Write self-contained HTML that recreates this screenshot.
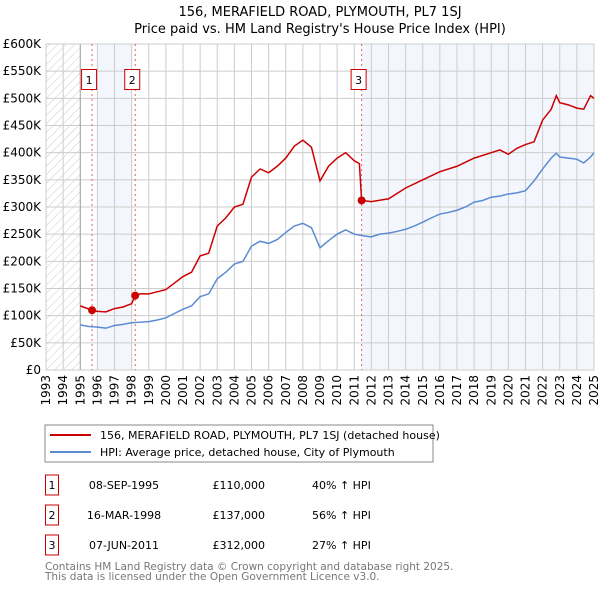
<!DOCTYPE html>
<html><head><meta charset="utf-8"><style>
body{margin:0;background:#fff;width:600px;height:590px;overflow:hidden;font-family:"DejaVu Sans","Liberation Sans",sans-serif}
svg text{font-family:"DejaVu Sans","Liberation Sans",sans-serif}
</style></head><body>
<svg id="c" width="600" height="590">
<defs><pattern id="hatch" width="6" height="6" patternUnits="userSpaceOnUse" patternTransform="rotate(45)"><line x1="0" y1="0" x2="0" y2="6" stroke="#ccc" stroke-width="1"/></pattern></defs>
<text x="320" y="16" text-anchor="middle" font-size="13">156, MERAFIELD ROAD, PLYMOUTH, PL7 1SJ</text>
<text x="320" y="33" text-anchor="middle" font-size="13">Price paid vs. HM Land Registry's House Price Index (HPI)</text>
<g id="plot"></g>
<rect x="45" y="425" width="388" height="37" fill="#fff" stroke="#888"/>
<line x1="50" y1="435" x2="91" y2="435" stroke="#cc0000" stroke-width="2"/>
<text x="100" y="439" font-size="11">156, MERAFIELD ROAD, PLYMOUTH, PL7 1SJ (detached house)</text>
<line x1="50" y1="452" x2="91" y2="452" stroke="#5b8bd0" stroke-width="2"/>
<text x="100" y="456" font-size="11">HPI: Average price, detached house, City of Plymouth</text>
<g id="tbl" font-size="11"></g>
<text x="45" y="570" font-size="10.5" fill="#777">Contains HM Land Registry data © Crown copyright and database right 2025.</text>
<text x="45" y="580" font-size="10.5" fill="#777">This data is licensed under the Open Government Licence v3.0.</text>
</svg>
<script>
const hpiYears=[1995,1995.5,1996,1996.5,1997,1997.5,1998,1998.5,1999,1999.5,2000,2000.5,2001,2001.5,2002,2002.5,2003,2003.5,2004,2004.5,2005,2005.5,2006,2006.5,2007,2007.5,2008,2008.5,2009,2009.5,2010,2010.5,2011,2011.5,2012,2012.5,2013,2013.5,2014,2014.5,2015,2015.5,2016,2016.5,2017,2017.5,2018,2018.5,2019,2019.5,2020,2020.5,2021,2021.5,2022,2022.5,2022.8,2023,2023.5,2024,2024.4,2024.8,2025];
const hpiValues=[83,80,79,77,82,84,87,88,89,92,96,104,112,118,135,140,168,180,195,200,228,237,233,240,253,265,270,262,225,238,250,258,250,247,245,250,252,255,259,265,272,280,287,290,294,300,309,312,318,320,324,326,330,348,370,390,399,392,390,388,381,392,400];
const propYears=[1995,1995.69,1996,1996.5,1997,1997.5,1998,1998.21,1998.5,1999,2000,2000.5,2001,2001.5,2002,2002.5,2003,2003.5,2004,2004.5,2005,2005.5,2006,2006.5,2007,2007.5,2008,2008.5,2009,2009.5,2010,2010.5,2011,2011.3,2011.43,2012,2013,2014,2015,2016,2017,2018,2019,2019.5,2020,2020.5,2021,2021.5,2022,2022.5,2022.8,2023,2023.5,2024,2024.4,2024.8,2025];
const propValues=[118,110,108,107,113,116,122,137,140,140,148,160,172,180,210,215,265,280,300,305,355,370,363,375,390,412,423,410,348,375,390,400,385,380,312,310,315,335,350,365,375,390,400,405,397,408,415,420,460,480,505,492,488,482,480,505,500];
const saleYears=[1995.69,1998.21,2011.43];
const saleValues=[110,137,312];
const saleLabels=["1","2","3"];
const saleDates=["08-SEP-1995","16-MAR-1998","07-JUN-2011"];
const salePrices=["£110,000","£137,000","£312,000"];
const saleHpi=["40% ↑ HPI","56% ↑ HPI","27% ↑ HPI"];
const yTicks=[0,50,100,150,200,250,300,350,400,450,500,550,600];
const yTickLabels=["£0","£50K","£100K","£150K","£200K","£250K","£300K","£350K","£400K","£450K","£500K","£550K","£600K"];
const xYears=[1993,1994,1995,1996,1997,1998,1999,2000,2001,2002,2003,2004,2005,2006,2007,2008,2009,2010,2011,2012,2013,2014,2015,2016,2017,2018,2019,2020,2021,2022,2023,2024,2025];

const X0=46,X1=594,Y0=370,Y1=44;
const xs=y=>X0+(y-1993)*(X1-X0)/32;
const ys=v=>Y0-v*(Y0-Y1)/600;
const NS="http://www.w3.org/2000/svg";
const g=document.getElementById('plot');
function mk(t,a,p){const e=document.createElementNS(NS,t);for(const k in a)e.setAttribute(k,a[k]);(p||g).appendChild(e);return e;}

let e;
e=mk('rect',{x:X0,y:Y1,width:xs(1995)-X0,height:Y0-Y1,fill:'url(#hatch)'});


e=mk('rect',{x:xs(1996),y:Y1,width:xs(1998)-xs(1996),height:Y0-Y1,fill:'#eef3fc',opacity:0.7});


e=mk('rect',{x:xs(saleYears[2]),y:Y1,width:X1-xs(saleYears[2]),height:Y0-Y1,fill:'#eef3fc',opacity:0.7});



yTicks.forEach((v,i)=>{
  e=mk('line',{x1:X0,x2:X1,y1:ys(v),y2:ys(v),stroke:'#ccc'});
  
  
  e=mk('text',{x:X0-5,y:ys(v)+4,'text-anchor':'end','font-size':12});
  e.textContent=yTickLabels[i];
  
  
});
xYears.forEach(y=>{
  e=mk('line',{x1:xs(y),x2:xs(y),y1:Y1,y2:Y0,stroke:y==1995?'#999':'#ccc'});
  
  
  e=mk('text',{x:0,y:0,'text-anchor':'end','font-size':12,transform:`translate(${xs(y)+4},375) rotate(-90)`});
  e.textContent=y;
  
  
});
e=mk('rect',{x:X0,y:Y1,width:X1-X0,height:Y0-Y1,fill:'none',stroke:'#ccc'});



saleYears.forEach((y,i)=>{
  e=mk('line',{x1:xs(y),x2:xs(y),y1:Y1,y2:Y0,stroke:'#e06060','stroke-dasharray':'2,3'});
  
  
});

e=mk('polyline',{points:hpiYears.map((y,i)=>xs(y)+','+ys(hpiValues[i])).join(' '),fill:'none',stroke:'#5b8bd0','stroke-width':1.5});


e=mk('polyline',{points:propYears.map((y,i)=>xs(y)+','+ys(propValues[i])).join(' '),fill:'none',stroke:'#cc0000','stroke-width':1.5});



saleYears.forEach((y,i)=>{
  e=mk('circle',{cx:xs(y),cy:ys(saleValues[i]),r:4,fill:'#cc0000'});
  
  
  e=mk('rect',{x:xs(y)-10.5,y:69.5,width:15,height:20,fill:'#fff',stroke:'#cc0000'});
  
  
  e=mk('text',{x:xs(y)-3,y:84,'text-anchor':'middle','font-size':11});
  e.textContent=saleLabels[i];
  
  
});

const t=document.getElementById('tbl');
saleLabels.forEach((l,i)=>{
  const cy=475+i*30;
  e=mk('rect',{x:45.5,y:cy,width:13,height:20,fill:'#fff',stroke:'#cc0000'},t);
  
  
  e=mk('text',{x:52,y:cy+14,'text-anchor':'middle'},t);e.textContent=l;
  
  
  e=mk('text',{x:124,y:cy+14,'text-anchor':'middle'},t);e.textContent=saleDates[i];
  
  
  e=mk('text',{x:265,y:cy+14,'text-anchor':'end'},t);e.textContent=salePrices[i];
  
  
  e=mk('text',{x:312,y:cy+14},t);e.textContent=saleHpi[i];
  
  
});
</script>
</body></html>
